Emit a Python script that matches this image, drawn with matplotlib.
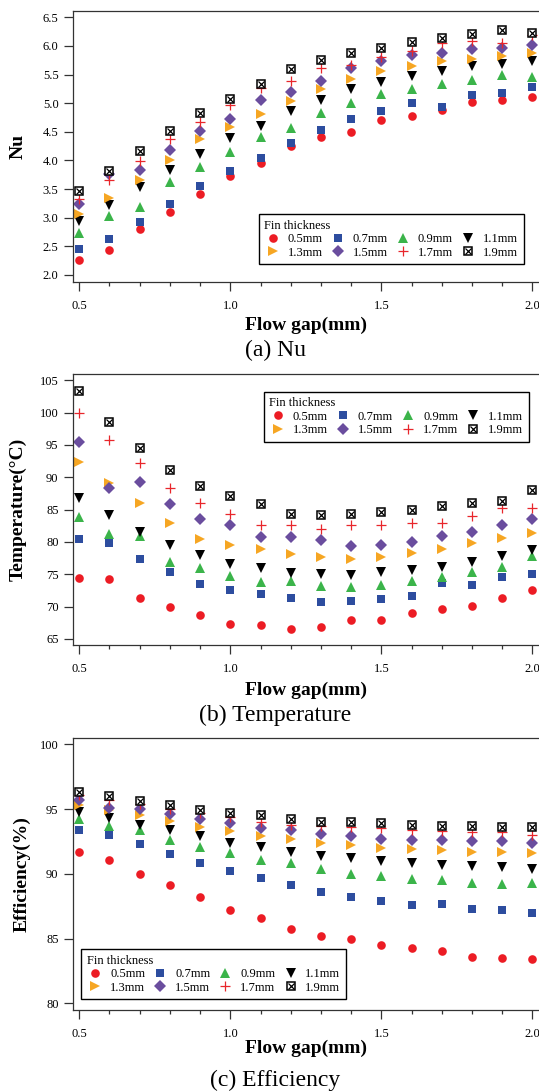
import matplotlib
matplotlib.use('Agg')
import matplotlib.pyplot as plt
from matplotlib.ticker import MultipleLocator, FormatStrFormatter

plt.rcParams['font.family'] = ['Liberation Serif', 'DejaVu Serif']

gap = [0.5, 0.6, 0.7, 0.8, 0.9, 1.0, 1.1, 1.2, 1.3, 1.4, 1.5, 1.6, 1.7, 1.8, 1.9, 2.0]
fins = ['0.5mm', '0.7mm', '0.9mm', '1.1mm', '1.3mm', '1.5mm', '1.7mm', '1.9mm']

nu = [
    [2.26, 2.44, 2.81, 3.10, 3.41, 3.73, 3.95, 4.26, 4.41, 4.50, 4.70, 4.77, 4.88, 5.02, 5.05, 5.10],
    [2.45, 2.63, 2.92, 3.24, 3.55, 3.81, 4.05, 4.30, 4.54, 4.73, 4.86, 5.01, 4.94, 5.14, 5.17, 5.28],
    [2.74, 3.03, 3.19, 3.63, 3.88, 4.15, 4.41, 4.57, 4.82, 5.01, 5.16, 5.25, 5.34, 5.41, 5.50, 5.45],
    [2.95, 3.23, 3.53, 3.83, 4.11, 4.40, 4.61, 4.87, 5.06, 5.24, 5.37, 5.48, 5.57, 5.65, 5.69, 5.74],
    [3.06, 3.35, 3.66, 4.01, 4.37, 4.59, 4.81, 5.04, 5.24, 5.43, 5.57, 5.65, 5.73, 5.77, 5.82, 5.87],
    [3.24, 3.77, 3.83, 4.18, 4.51, 4.73, 5.05, 5.19, 5.38, 5.62, 5.74, 5.85, 5.87, 5.95, 5.96, 6.01],
    [3.32, 3.66, 3.99, 4.37, 4.67, 4.96, 5.26, 5.38, 5.61, 5.67, 5.81, 5.92, 6.05, 6.08, 6.05, 6.19],
    [3.46, 3.82, 4.16, 4.52, 4.82, 5.08, 5.33, 5.59, 5.76, 5.87, 5.96, 6.07, 6.14, 6.20, 6.28, 6.22],
]

temp = [
    [74.4, 74.3, 71.4, 70.0, 68.7, 67.3, 67.2, 66.5, 66.9, 67.9, 67.9, 69.0, 69.7, 70.1, 71.4, 72.5],
    [80.4, 79.9, 77.4, 75.3, 73.5, 72.5, 71.9, 71.4, 70.7, 70.8, 71.2, 71.6, 73.6, 73.4, 74.6, 75.1],
    [83.8, 81.3, 80.9, 76.9, 75.9, 74.7, 73.8, 74.0, 73.2, 73.1, 73.3, 74.0, 74.6, 75.4, 76.1, 77.8],
    [86.8, 84.1, 81.5, 79.6, 78.0, 76.6, 76.0, 75.2, 75.0, 74.9, 75.3, 75.6, 76.2, 76.9, 77.8, 78.7],
    [92.3, 89.1, 86.1, 83.0, 80.5, 79.5, 78.9, 78.1, 77.7, 77.4, 77.7, 78.3, 78.9, 79.8, 80.6, 81.4],
    [95.5, 88.3, 89.2, 85.9, 83.6, 82.6, 80.7, 80.7, 80.3, 79.4, 79.5, 80.0, 81.0, 81.5, 82.6, 83.6],
    [99.9, 95.7, 92.2, 88.3, 86.1, 84.4, 82.7, 82.7, 82.0, 82.6, 82.6, 82.9, 83.0, 84.0, 85.3, 85.3],
    [103.4, 98.6, 94.6, 91.1, 88.7, 87.1, 85.8, 84.4, 84.1, 84.3, 84.7, 84.9, 85.5, 86.0, 86.3, 88.1],
]

eff = [
    [91.7, 91.1, 90.0, 89.1, 88.2, 87.2, 86.6, 85.7, 85.2, 85.0, 84.5, 84.3, 84.0, 83.6, 83.5, 83.4],
    [93.4, 93.0, 92.3, 91.5, 90.8, 90.2, 89.7, 89.1, 88.6, 88.2, 87.9, 87.6, 87.7, 87.3, 87.2, 87.0],
    [94.2, 93.7, 93.4, 92.6, 92.1, 91.6, 91.1, 90.8, 90.4, 90.0, 89.8, 89.6, 89.5, 89.3, 89.2, 89.3],
    [94.8, 94.3, 93.8, 93.4, 92.9, 92.4, 92.1, 91.7, 91.4, 91.2, 91.0, 90.8, 90.7, 90.6, 90.5, 90.4],
    [95.3, 94.9, 94.5, 94.1, 93.6, 93.3, 92.9, 92.7, 92.4, 92.2, 92.0, 91.9, 91.8, 91.7, 91.7, 91.6],
    [95.7, 95.1, 95.0, 94.6, 94.2, 93.9, 93.5, 93.4, 93.1, 92.9, 92.7, 92.6, 92.6, 92.5, 92.5, 92.4],
    [96.1, 95.7, 95.4, 95.0, 94.7, 94.4, 94.0, 93.8, 93.7, 93.6, 93.5, 93.4, 93.3, 93.2, 93.2, 93.0],
    [96.3, 96.0, 95.6, 95.3, 94.9, 94.7, 94.5, 94.2, 94.0, 94.0, 93.9, 93.8, 93.7, 93.7, 93.6, 93.6],
]

styles = [
    dict(marker='o', color='#ec1c24', ms=6.2),
    dict(marker='s', color='#2d4d9f', ms=6.0),
    dict(marker='^', color='#3bb44a', ms=7.0),
    dict(marker='v', color='#000000', ms=7.0),
    dict(marker='>', color='#f6a623', ms=7.0),
    dict(marker='D', color='#6a4d9e', ms=5.8),
    dict(marker='+', color='#e8262b', ms=7.0, mew=0.9),
]

spine_c = '#333333'

fig = plt.figure(figsize=(5.39, 10.92), dpi=100)

W, H = 539.0, 1092.0
left_px, right_px = 72.5, 544.4
panels = [
    # data, ylim, yticks step, fmt, ylabel, caption, top/bottom px, legend, xlabel y, ylabel x, caption y
    (nu, (1.883, 6.615), 0.5, '%.1f', 'Nu', '(a) Nu', 10.7, 281.7,
     ('lower right', (0.956, 0.064)), -0.160, -0.1155, 350),
    (temp, (64.07, 105.93), 5, '%d', 'Temperature(°C)', '(b) Temperature', 374.3, 645.0,
     ('upper right', (0.967, 0.936)), -0.166, -0.1155, 715),
    (eff, (79.48, 100.46), 5, '%d', 'Efficiency(%)', '(c) Efficiency', 738.3, 1010.0,
     ('lower left', (0.018, 0.040)), -0.141, -0.107, 1080),
]

for data, ylim, ystep, fmt, ylab, cap, top, bot, leg, xly, ylx, capy in panels:
    ax = fig.add_axes([left_px / W, 1 - bot / H, (right_px - left_px) / W, (bot - top) / H])
    handles = []
    for vals, st in zip(data[:7], styles):
        h, = ax.plot(gap, vals, linestyle='none', marker=st['marker'], color=st['color'],
                     markersize=st['ms'], markeredgewidth=st.get('mew', 0), clip_on=False)
        handles.append(h)
    # crossed square for 1.9 mm
    hb, = ax.plot(gap, data[7], linestyle='none', marker='s', markersize=6.0,
                  markerfacecolor='white', markeredgecolor='black', markeredgewidth=1.1, clip_on=False)
    hx, = ax.plot(gap, data[7], linestyle='none', marker='x', markersize=4.2,
                  color='black', markeredgewidth=0.9, clip_on=False)
    handles.append((hb, hx))

    ax.set_xlim(0.4775, 2.040)
    ax.set_ylim(*ylim)
    ax.xaxis.set_major_locator(MultipleLocator(0.5))
    ax.xaxis.set_minor_locator(MultipleLocator(0.1))
    ax.xaxis.set_major_formatter(FormatStrFormatter('%.1f'))
    ax.yaxis.set_major_locator(MultipleLocator(ystep))
    ax.yaxis.set_major_formatter(FormatStrFormatter(fmt))
    ax.tick_params(axis='both', which='major', direction='out', length=6.5, width=0.9,
                   color=spine_c, labelsize=9)
    ax.tick_params(axis='x', which='major', pad=6.5)
    ax.tick_params(axis='y', which='major', pad=3.5)
    ax.tick_params(axis='x', which='minor', direction='out', length=2.8, width=0.9, color=spine_c)
    ax.tick_params(right=False, top=False)
    for s in ax.spines.values():
        s.set_color(spine_c)
        s.set_linewidth(0.9)

    ax.set_xlabel('Flow gap(mm)', fontsize=14, fontweight='bold', va='center')
    ax.xaxis.set_label_coords(0.494, xly)
    ax.set_ylabel(ylab, fontsize=14, fontweight='bold', va='center')
    ax.yaxis.set_label_coords(ylx, 0.5)

    order = [0, 4, 1, 5, 2, 6, 3, 7]
    lg = ax.legend([handles[i] for i in order], [fins[i] for i in order], ncol=4,
                   loc=leg[0], bbox_to_anchor=leg[1], borderaxespad=0,
                   title='Fin thickness', title_fontsize=9, fontsize=9, alignment='left',
                   handlelength=1.4, handletextpad=0.48, columnspacing=0.52,
                   borderpad=0.45, labelspacing=0.12, fancybox=False, framealpha=1)
    lg.get_frame().set_edgecolor('black')
    lg.get_frame().set_linewidth(1.0)

    fig.text(0.511, 1 - capy / H, cap, ha='center', va='center', fontsize=17)

fig.savefig('out.png', dpi=100)
